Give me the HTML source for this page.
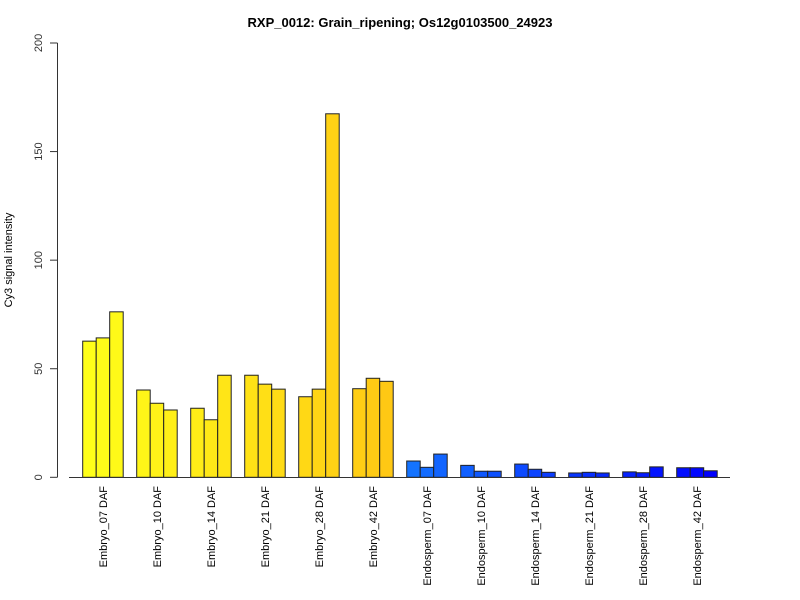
<!DOCTYPE html>
<html><head><meta charset="utf-8"><style>
body{margin:0;background:#fff}
svg{display:block;font-family:"Liberation Sans",sans-serif}
</style></head><body>
<svg id="chart" width="800" height="600" xmlns="http://www.w3.org/2000/svg">
<text x="400" y="27" text-anchor="middle" font-size="13" font-weight="bold">RXP_0012: Grain_ripening; Os12g0103500_24923</text>
<text transform="translate(12,260) rotate(-90)" text-anchor="middle" font-size="11">Cy3 signal intensity</text>
<g id="yaxis"></g>
<g id="bars"></g>
<g id="xlabels"></g>
<line x1="69" y1="477.5" x2="730" y2="477.5" stroke="#333" stroke-width="1"/>
</svg>
<script>
const categories=["Embryo_07 DAF","Embryo_10 DAF","Embryo_14 DAF","Embryo_21 DAF","Embryo_28 DAF","Embryo_42 DAF","Endosperm_07 DAF","Endosperm_10 DAF","Endosperm_14 DAF","Endosperm_21 DAF","Endosperm_28 DAF","Endosperm_42 DAF"];
const values=[62.7,64.2,76.2, 40.2,34.1,31.0, 31.8,26.5,47.0, 47.0,42.9,40.6, 37.1,40.6,167.4, 40.8,45.6,44.2,
 7.5,4.6,10.7, 5.5,2.8,2.8, 6.1,3.7,2.3, 2.0,2.3,2.0, 2.5,2.1,4.8, 4.4,4.4,3.0];
const yTicks=[0,50,100,150,200];
const NS="http://www.w3.org/2000/svg";
const y0=477.3, yMax=200, yTop=43;
const yScale=v=>y0-(v/yMax)*(y0-yTop);
const bw=13.5, x0=82.7, pitch=54;
const xScale=i=>x0+Math.floor(i/3)*pitch+(i%3)*bw;
function color(i){
  if(i<18){const t=i/17;return `rgb(255,${Math.round(255-t*55)},${Math.round(25-t*5)})`;}
  const t=(i-18)/17;return `rgb(${Math.round(20-t*20)},${Math.round(115-t*115)},255)`;
}
const ya=document.getElementById('yaxis');
const al=document.createElementNS(NS,'line');


al.setAttribute('x1',57.5);al.setAttribute('x2',57.5);al.setAttribute('y1',yScale(0));al.setAttribute('y2',yScale(200));al.setAttribute('stroke','#333');
ya.appendChild(al);
yTicks.forEach(t=>{
  const y=yScale(t);
  const l=document.createElementNS(NS,'line');
  
  
  l.setAttribute('x1',50);l.setAttribute('x2',57.5);l.setAttribute('y1',y);l.setAttribute('y2',y);l.setAttribute('stroke','#333');
  ya.appendChild(l);
  const tx=document.createElementNS(NS,'text');
  
  
  tx.setAttribute('transform',`translate(42,${y}) rotate(-90)`);
  tx.setAttribute('text-anchor','middle');tx.setAttribute('font-size','11');tx.setAttribute('fill','#333');
  tx.textContent=t;ya.appendChild(tx);
});
const bg=document.getElementById('bars');
values.forEach((v,i)=>{
  const r=document.createElementNS(NS,'rect');
  
  
  const y=yScale(v);
  r.setAttribute('x',xScale(i));r.setAttribute('y',y);r.setAttribute('width',bw);r.setAttribute('height',y0-y);
  r.setAttribute('fill',color(i));r.setAttribute('stroke','#222');r.setAttribute('stroke-width','1');
  bg.appendChild(r);
});
const xl=document.getElementById('xlabels');
categories.forEach((c,g)=>{
  const cx=x0+g*pitch+1.5*bw;
  const tx=document.createElementNS(NS,'text');
  
  
  tx.setAttribute('transform',`translate(${cx+4},486) rotate(-90)`);
  tx.setAttribute('text-anchor','end');tx.setAttribute('font-size','11');
  tx.textContent=c;xl.appendChild(tx);
});
</script>
</body></html>
